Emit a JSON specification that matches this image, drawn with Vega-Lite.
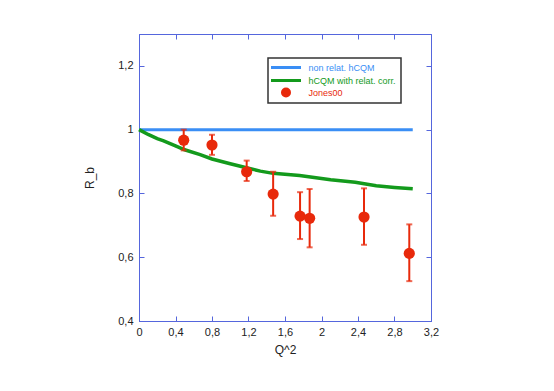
{
  "$schema": "https://vega.github.io/schema/vega-lite/v6.json",
  "width": 292,
  "height": 287,
  "autosize": {"type": "none"},
  "padding": {"left": 139, "top": 34, "right": 123, "bottom": 70},
  "background": "white",
  "config": {
    "locale": {"number": {"decimal": ",", "thousands": ".", "grouping": [3], "currency": ["", " €"]}},
    "view": {"stroke": "#5566dd", "strokeWidth": 1},
    "font": "Liberation Sans",
    "legend": {"strokeWidth": 1.5},
    "axis": {
      "domainColor": "#5566dd",
      "tickColor": "#5566dd",
      "tickSize": -5,
      "grid": false,
      "labelFlush": false,
      "labelFont": "Liberation Sans",
      "labelFontSize": 11,
      "labelColor": "#222222",
      "titleFont": "Liberation Sans",
      "titleFontSize": 12,
      "titleFontWeight": "normal",
      "titleColor": "#222222"
    }
  },
  "layer": [
    {
      "data": {"values": [
        {"series": "non relat. hCQM", "Q2": 0, "R": 1},
        {"series": "non relat. hCQM", "Q2": 3.0, "R": 1}
      ]},
      "mark": {"type": "line", "strokeWidth": 3},
      "encoding": {
        "x": {"field": "Q2", "type": "quantitative", "scale": {"domain": [0, 3.2], "nice": false, "zero": false},
          "axis": {"orient": "bottom", "values": [0, 0.4, 0.8, 1.2, 1.6, 2, 2.4, 2.8, 3.2], "format": "~g", "title": "Q^2", "labelPadding": 10, "titlePadding": 7}},
        "y": {"field": "R", "type": "quantitative", "scale": {"domain": [0.4, 1.3], "nice": false, "zero": false},
          "axis": {"orient": "left", "values": [0.4, 0.6, 0.8, 1, 1.2], "format": "~g", "title": "R_b", "labelPadding": 11, "titlePadding": 21}},
        "color": {"field": "series", "type": "nominal",
          "scale": {"domain": ["non relat. hCQM", "hCQM with relat. corr.", "Jones00"], "range": ["#3a8ef5", "#139a1c", "#e8290b"]},
          "legend": {
            "orient": "none", "legendX": 129, "legendY": 24, "title": null,
            "padding": 5, "strokeColor": "#333333", "fillColor": "white",
            "labelFont": "Liberation Sans", "labelFontSize": 9, "labelOffset": 18,
            "symbolOffset": 8.5, "rowPadding": 0, "symbolSize": 100, "symbolStrokeWidth": 3,
            "symbolType": "M-3,0H3",
            "encode": {
              "symbols": {"update": {
                "shape": {"signal": "datum.value === 'Jones00' ? 'circle' : 'M-3,0H3'"},
                "fill": {"signal": "datum.value === 'Jones00' ? '#e8290b' : 'transparent'"},
                "stroke": {"scale": "color", "field": "value"},
                "strokeWidth": {"signal": "datum.value === 'Jones00' ? 0 : 3"},
                "size": {"value": 100},
                "opacity": {"value": 1}
              }},
              "labels": {"update": {"fill": {"scale": "color", "field": "value"}}}
            }
          }}
      }
    },
    {
      "data": {"values": [
        {"series": "hCQM with relat. corr.", "Q2": 0, "R": 1.0},
        {"series": "hCQM with relat. corr.", "Q2": 0.1, "R": 0.985},
        {"series": "hCQM with relat. corr.", "Q2": 0.2, "R": 0.972},
        {"series": "hCQM with relat. corr.", "Q2": 0.27, "R": 0.965},
        {"series": "hCQM with relat. corr.", "Q2": 0.4, "R": 0.949},
        {"series": "hCQM with relat. corr.", "Q2": 0.5, "R": 0.937},
        {"series": "hCQM with relat. corr.", "Q2": 0.67, "R": 0.922},
        {"series": "hCQM with relat. corr.", "Q2": 0.8, "R": 0.908},
        {"series": "hCQM with relat. corr.", "Q2": 1.0, "R": 0.893},
        {"series": "hCQM with relat. corr.", "Q2": 1.2, "R": 0.879},
        {"series": "hCQM with relat. corr.", "Q2": 1.33, "R": 0.870},
        {"series": "hCQM with relat. corr.", "Q2": 1.47, "R": 0.863},
        {"series": "hCQM with relat. corr.", "Q2": 1.76, "R": 0.856},
        {"series": "hCQM with relat. corr.", "Q2": 2.1, "R": 0.843},
        {"series": "hCQM with relat. corr.", "Q2": 2.37, "R": 0.835},
        {"series": "hCQM with relat. corr.", "Q2": 2.6, "R": 0.824},
        {"series": "hCQM with relat. corr.", "Q2": 2.8, "R": 0.819},
        {"series": "hCQM with relat. corr.", "Q2": 3.0, "R": 0.815}
      ]},
      "mark": {"type": "line", "strokeWidth": 3.5},
      "encoding": {
        "x": {"field": "Q2", "type": "quantitative", "axis": null},
        "y": {"field": "R", "type": "quantitative", "axis": null},
        "color": {"field": "series", "type": "nominal"}
      }
    },
    {
      "data": {"name": "jones"},
      "mark": {"type": "errorbar", "ticks": true, "size": 6, "thickness": 2, "color": "#e8290b"},
      "encoding": {
        "x": {"field": "Q2", "type": "quantitative", "axis": null},
        "y": {"field": "lo", "type": "quantitative", "axis": null},
        "y2": {"field": "hi"}
      }
    },
    {
      "data": {"name": "jones"},
      "mark": {"type": "point", "filled": true, "size": 125, "opacity": 1},
      "encoding": {
        "x": {"field": "Q2", "type": "quantitative",
          "axis": {"orient": "top", "values": [0.4, 0.8, 1.2, 1.6, 2, 2.4, 2.8], "labels": false, "title": null}},
        "y": {"field": "R", "type": "quantitative",
          "axis": {"orient": "right", "values": [0.4, 0.6, 0.8, 1, 1.2], "labels": false, "title": null}},
        "color": {"field": "series", "type": "nominal"}
      }
    }
  ],
  "datasets": {
    "jones": [
      {"series": "Jones00", "Q2": 0.49, "R": 0.967, "lo": 0.935, "hi": 1.0},
      {"series": "Jones00", "Q2": 0.8, "R": 0.952, "lo": 0.921, "hi": 0.984},
      {"series": "Jones00", "Q2": 1.18, "R": 0.868, "lo": 0.839, "hi": 0.903},
      {"series": "Jones00", "Q2": 1.47, "R": 0.798, "lo": 0.730, "hi": 0.868},
      {"series": "Jones00", "Q2": 1.765, "R": 0.729, "lo": 0.657, "hi": 0.804},
      {"series": "Jones00", "Q2": 1.87, "R": 0.722, "lo": 0.631, "hi": 0.814},
      {"series": "Jones00", "Q2": 2.466, "R": 0.726, "lo": 0.639, "hi": 0.816},
      {"series": "Jones00", "Q2": 2.962, "R": 0.612, "lo": 0.525, "hi": 0.703}
    ]
  },
  "resolve": {"axis": {"x": "independent", "y": "independent"}}
}
